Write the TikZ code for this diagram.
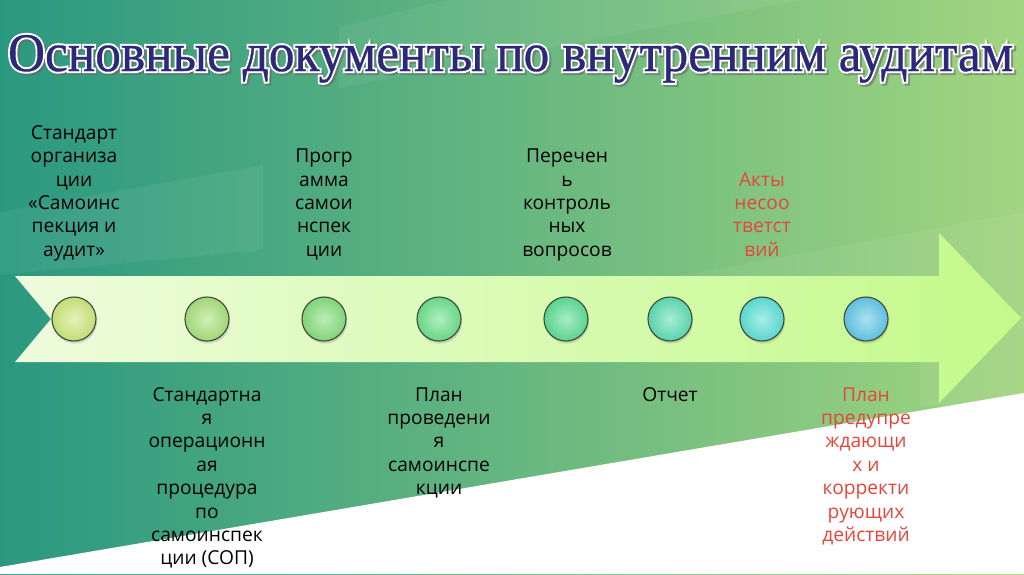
\documentclass[tikz,border=0pt]{standalone}
\usepackage{graphicx}
\usepackage{fontspec}
\setmainfont{Open Sans}
\newfontfamily\titlefont[FakeBold=0.6]{Liberation Serif}
\newfontfamily\titlefontO[FakeBold=8]{Liberation Serif}
\usetikzlibrary{shadows}
\definecolor{bgL}{RGB}{42,152,128}
\definecolor{bgM}{RGB}{100,182,132}
\definecolor{bgR}{RGB}{162,213,128}
\definecolor{arL}{RGB}{238,252,220}
\definecolor{arR}{RGB}{196,250,138}
\definecolor{ttl}{RGB}{45,40,122}
\definecolor{redtxt}{RGB}{228,70,60}
\definecolor{rim}{RGB}{60,72,60}
\definecolor{c1}{RGB}{205,232,125}
\definecolor{c2}{RGB}{170,225,125}
\definecolor{c3}{RGB}{135,222,125}
\definecolor{c4}{RGB}{110,225,140}
\definecolor{c5}{RGB}{95,222,150}
\definecolor{c6}{RGB}{95,222,180}
\definecolor{c7}{RGB}{95,225,215}
\definecolor{c8}{RGB}{100,200,232}
\newcommand\mytitle[1]{\resizebox{1005pt}{36pt}{#1Основные документы по внутренним аудитам}}
\tikzset{
  ttlnode/.style={anchor=base west, inner sep=0pt, outer sep=0pt},
  lbl/.style={font=\fontsize{19.2}{23.4}\selectfont, align=center, inner sep=0pt},
  lbltop/.style={lbl, anchor=south},
  lblbot/.style={lbl, anchor=north},
  dot/.style={circle, minimum size=44pt, inner sep=0pt, draw=rim, line width=1.1pt,
    inner color=#1!55!white, outer color=#1!95!black,
    drop shadow={opacity=0.3, shadow xshift=1pt, shadow yshift=-2.5pt}},
  deco/.style={fill=white, fill opacity=0.06, draw=none}
}
\begin{document}
\begin{tikzpicture}[x=1pt,y=-1pt]
\useasboundingbox (0,0) rectangle (1024,574);
% background
\shade[left color=bgL, middle color=bgM, right color=bgR] (0,0) rectangle (1024,574);
\fill[deco] (339,27) -- (447,0) -- (800,0) -- (339,88) -- cycle;
\fill[deco] (0,212) -- (263,165) -- (263,250) -- (0,275) -- cycle;
\fill[deco] (680,276) -- (1024,212) -- (1024,405) -- (920,405) -- (920,276) -- cycle;
\fill[white] (0,567) -- (1024,393) -- (1024,574) -- (0,574) -- cycle;
% arrow
\shade[left color=arL, right color=arR] (15,276) -- (939,276) -- (939,233) -- (1021,318)
  -- (939,403) -- (939,362) -- (15,362) -- (51,319) -- cycle;
% title
\node[ttlnode, text=black!60, opacity=0.55] (tsh) at (10,73) {\mytitle{\titlefontO}};
\node[ttlnode, text=white] (tw) at (8,71) {\mytitle{\titlefontO}};
\node[ttlnode, text=ttl] (title) at (8,71) {\mytitle{\titlefont}};
% circles
\node[dot=c1] (d1) at (74,319) {};
\node[dot=c2] (d2) at (207,319) {};
\node[dot=c3] (d3) at (324,319) {};
\node[dot=c4] (d4) at (439,319) {};
\node[dot=c5] (d5) at (566,319) {};
\node[dot=c6] (d6) at (670,319) {};
\node[dot=c7] (d7) at (762,319) {};
\node[dot=c8] (d8) at (866,319) {};
% top labels
\node[lbltop] (t1) at (74,263.5) {\strut Стандарт\\организа\\ции\\«Самоинс\\пекция и\\аудит»\strut};
\node[lbltop] (t3) at (324,263.5) {\strut Прогр\\амма\\самои\\нспек\\ции\strut};
\node[lbltop] (t5) at (567,263.5) {\strut Перечен\\ь\\контроль\\ных\\вопросов\strut};
\node[lbltop, text=redtxt] (t7) at (762,263.5) {\strut Акты\\несоо\\тветст\\вий\strut};
% bottom labels
\node[lblbot] (b2) at (207,384.6) {\strut Стандартна\\я\\операционн\\ая\\процедура\\по\\самоинспек\\ции (СОП)\strut};
\node[lblbot] (b4) at (439,384.6) {\strut План\\проведени\\я\\самоинспе\\кции\strut};
\node[lblbot] (b6) at (670,384.6) {\strut Отчет\strut};
\node[lblbot, text=redtxt] (b8) at (866,384.6) {\strut План\\предупре\\ждающи\\х  и\\корректи\\рующих\\действий\strut};
\end{tikzpicture}
\end{document}
